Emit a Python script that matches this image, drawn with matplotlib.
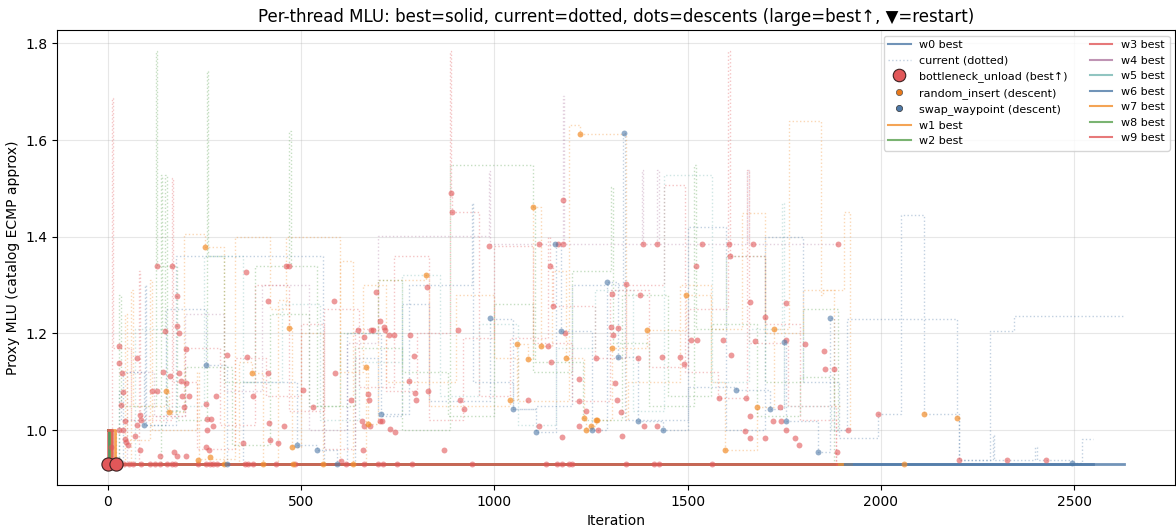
#!/usr/bin/env python3
"""Per-thread MLU traces: best (solid), current (dotted), descent dots."""

import matplotlib
matplotlib.use('Agg')
import matplotlib.pyplot as plt
from matplotlib.lines import Line2D

# Worker colours (w0..w9)
WORKER_COLORS = ['#4e79a7', '#f28e2b', '#59a14f', '#e15759', '#b07aa1',
                 '#76b7b2', '#4e79a7', '#f28e2b', '#59a14f', '#e15759']

# Best MLU per worker: starts at 1.0, drops to the best value, held till the end
BEST_START = 1.0
BEST_VALUE = 0.929
BEST_DROP_ITER = [3, 19, 5, 1, 6, 7, 2, 8, 4, 10]
BEST_END_ITER = [2630, 1924, 1890, 1885, 1890, 1870, 2549, 1900, 1880, 1885]

# Current MLU traces (step changes), one pair of lists per worker
W0_IT = [0, 4, 30, 34, 95, 99, 176, 556, 560, 640, 700, 760, 830, 990, 1048, 1109, 1160, 1173,
         1252, 1292, 1320, 1372, 1436, 1500, 1626, 1714, 1750, 1755, 1838, 1868, 1880, 1913,
         2196, 2202, 2282, 2344, 2630]
W0_CUR = [1.0, 0.93, 1.08, 1.02, 1.30, 1.01, 1.36, 1.02, 0.93, 1.15, 1.03, 1.26, 1.06, 1.23, 1.043,
          0.996, 1.385, 1.205, 1.0, 1.306, 1.152, 1.019, 1.0, 1.09, 1.082, 1.044, 1.183, 1.019,
          0.955, 1.231, 1.0, 1.229, 1.025, 0.937, 1.205, 1.236, 1.236]
W1_IT = [0, 20, 60, 64, 151, 157, 196, 252, 300, 340, 374, 401, 440, 470, 477, 500, 557, 600, 635,
         668, 673, 700, 823, 830, 1041, 1058, 1088, 1100, 1121, 1150, 1186, 1231, 1238, 1251, 1264,
         1304, 1394, 1495, 1560, 1596, 1680, 1723, 1762, 1845, 1850, 1904, 1920, 1924]
W1_CUR = [1.0, 0.93, 1.29, 1.05, 1.081, 1.037, 1.405, 1.379, 0.93, 1.14, 1.117, 0.93, 1.27, 1.211,
          0.964, 1.2, 0.93, 1.35, 0.93, 1.13, 1.012, 1.31, 1.321, 1.05, 1.062, 1.177, 1.147, 1.461,
          1.173, 1.33, 1.149, 1.025, 1.0, 1.008, 1.021, 1.169, 1.207, 1.279, 1.1, 0.959, 1.047, 1.21,
          1.639, 1.28, 1.29, 1.451, 1.0, 1.0]
W2_IT = [0, 6, 30, 34, 124, 128, 180, 256, 260, 300, 380, 469, 473, 540, 600, 700, 760, 880, 1000,
         1100, 1200, 1302, 1306, 1400, 1518, 1522, 1600, 1700, 1800, 1890]
W2_CUR = [1.0, 0.93, 1.28, 1.05, 1.785, 1.34, 1.02, 1.744, 1.36, 1.10, 1.34, 1.618, 1.34, 1.05, 1.20,
          1.31, 1.12, 1.03, 1.26, 1.12, 1.33, 1.503, 1.18, 1.05, 1.548, 1.21, 1.36, 1.10, 1.25, 1.0]
W3_IT = [0, 2, 10, 14, 60, 165, 169, 230, 330, 410, 500, 560, 640, 720, 800, 885, 887, 891, 960,
         1040, 1140, 1143, 1151, 1260, 1340, 1440, 1494, 1580, 1655, 1659, 1760, 1885]
W3_CUR = [1.0, 0.93, 1.687, 1.17, 1.02, 1.521, 1.10, 0.96, 1.15, 1.07, 1.22, 0.96, 1.21, 1.08, 1.20,
          1.784, 1.491, 1.451, 1.07, 1.19, 1.40, 1.340, 1.257, 1.15, 1.30, 1.508, 1.12, 1.066, 1.539,
          1.18, 1.05, 0.93]
W4_IT = [0, 6, 50, 120, 200, 300, 400, 520, 620, 698, 985, 989, 1178, 1181, 1381, 1385, 1421, 1425,
         1655, 1659, 1890]
W4_CUR = [1.0, 0.93, 1.12, 1.03, 1.24, 1.08, 1.30, 1.00, 1.18, 1.402, 1.535, 1.384, 1.692, 1.384,
          1.539, 1.384, 1.539, 1.384, 1.539, 1.384, 1.384]
W5_IT = [0, 7, 70, 150, 250, 350, 450, 550, 650, 760, 860, 960, 1060, 1160, 1260, 1360, 1440, 1563,
         1660, 1745, 1749, 1870]
W5_CUR = [1.0, 0.93, 1.21, 1.05, 1.36, 1.10, 1.26, 1.02, 1.14, 1.32, 1.07, 1.22, 1.01, 1.17, 1.29,
          1.04, 1.527, 1.10, 1.21, 1.469, 1.05, 1.0]
W6_IT = [0, 3, 40, 93, 150, 254, 309, 350, 490, 541, 594, 620, 708, 780, 941, 945, 1048, 1109, 1200,
         1334, 1338, 1500, 1600, 1700, 1800, 1892, 1993, 2052, 2111, 2202, 2290, 2294, 2326, 2400,
         2404, 2427, 2494, 2520, 2549]
W6_CUR = [1.0, 0.93, 1.12, 1.01, 1.25, 1.134, 0.93, 1.10, 0.968, 0.958, 0.93, 1.20, 1.034, 1.30,
          1.47, 1.10, 1.043, 1.05, 1.30, 1.614, 1.02, 1.42, 1.00, 1.40, 1.10, 0.983, 1.034, 1.446,
          1.034, 0.937, 0.989, 0.937, 0.937, 0.965, 0.937, 0.937, 0.932, 0.982, 0.982]
W7_IT = [0, 8, 45, 49, 110, 114, 230, 236, 330, 420, 460, 600, 660, 720, 900, 1000, 1060, 1193, 1222,
         1340, 1345, 1480, 1560, 1640, 1700, 1800, 1880, 1900]
W7_CUR = [1.0, 0.93, 1.24, 0.98, 1.31, 1.0, 1.12, 0.94, 1.40, 1.25, 1.40, 1.12, 1.30, 1.10, 1.28,
          1.15, 1.06, 1.632, 1.613, 1.02, 1.10, 1.30, 1.21, 1.45, 1.20, 1.29, 1.05, 1.05]
W8_IT = [0, 10, 137, 141, 148, 152, 200, 320, 420, 520, 640, 760, 886, 1100, 1104, 1230, 1330, 1450,
         1560, 1680, 1790, 1880]
W8_CUR = [1.0, 0.93, 1.527, 1.20, 1.527, 1.04, 1.13, 0.97, 1.24, 1.05, 1.17, 1.00, 1.548, 1.461,
          1.14, 1.02, 1.28, 1.07, 1.22, 1.03, 1.11, 0.93]
W9_IT = [0, 3, 80, 84, 200, 290, 380, 470, 560, 650, 740, 830, 920, 1000, 1100, 1200, 1300, 1400,
         1500, 1605, 1609, 1700, 1790, 1885]
W9_CUR = [1.0, 0.93, 1.33, 1.03, 1.17, 1.01, 1.30, 1.04, 1.25, 1.09, 1.36, 1.02, 1.19, 1.381, 1.18,
          1.06, 1.29, 1.13, 1.25, 1.785, 1.360, 1.22, 1.02, 0.93]

# Descent dots, coloured by operator
BU_IT = [128, 166, 357, 462, 470, 414, 584, 180, 179, 149, 184, 29, 202, 308, 360, 75, 28, 36, 142,
         160, 183, 415, 587, 188, 203, 113, 127, 40, 193, 210, 280, 375, 505, 34, 197, 255, 530, 83,
         86, 45, 76, 257, 268, 271, 416, 457, 29, 38, 257, 70, 45, 47, 52, 9, 82, 350, 419, 439, 253,
         262, 172, 178, 134, 201, 604,
         42, 55, 64, 85, 109, 122, 134, 152, 165, 173, 234, 255, 264, 272, 283, 354, 363, 375, 435,
         484, 615,
         826, 1143, 1151, 693, 705, 714, 717, 647, 680, 685, 664, 728, 740, 782, 907, 1184, 1140,
         1147, 1264, 792, 779, 829, 794, 798, 674, 676, 630, 910, 921, 1087, 1219, 1219, 1238, 658,
         662, 678, 703, 709, 731, 742, 1115, 1219, 1268, 1174, 661, 870,
         663, 698, 711, 747, 786, 943, 1134, 1162, 1175, 1193, 1202,
         1609, 1523, 1340, 1376, 1304, 1662, 1754, 1700, 1303, 1320, 1307, 1509, 1525, 1591, 1674,
         1754, 1805, 1372, 1434, 1481, 1492, 1612, 1853, 1855, 1878, 1311, 1318, 1329, 1581, 1650,
         1738, 1661, 1720, 1742, 1388, 1422, 1649, 1755, 1916, 1331, 1661, 1700, 1779, 1788, 1887,
         1340, 1412, 1426, 1564,
         1993, 2202, 2326, 2427,
         887, 891, 985, 1116, 1165, 1179, 1178, 1385, 1422, 1537, 1608, 1669, 1889]
BU_MLU = [1.340, 1.340, 1.328, 1.340, 1.340, 1.267, 1.267, 1.277, 1.216, 1.205, 1.200, 1.174, 1.167,
          1.156, 1.151, 1.149, 1.138, 1.117, 1.120, 1.112, 1.119, 1.119, 1.119, 1.102, 1.097, 1.081,
          1.081, 1.078, 1.071, 1.071, 1.071, 1.071, 1.083, 1.052, 1.048, 1.054, 1.047, 1.031, 1.021,
          1.019, 1.010, 1.022, 1.022, 1.008, 1.014, 1.008, 1.001, 1.001, 1.001, 0.988, 0.982, 0.975,
          0.968, 0.964, 0.958, 0.973, 0.980, 0.974, 0.965, 0.958, 0.955, 0.946, 0.947, 0.947, 0.936,
          0.930, 0.930, 0.930, 0.930, 0.930, 0.930, 0.930, 0.930, 0.930, 0.930, 0.930, 0.930, 0.930,
          0.930, 0.930, 0.930, 0.930, 0.930, 0.930, 0.930, 0.930,
          1.296, 1.340, 1.257, 1.285, 1.225, 1.214, 1.207, 1.207, 1.207, 1.207, 1.192, 1.196, 1.196,
          1.196, 1.207, 1.200, 1.173, 1.141, 1.149, 1.154, 1.102, 1.081, 1.076, 1.062, 1.074, 1.063,
          1.062, 1.062, 1.043, 1.062, 1.105, 1.061, 1.039, 1.019, 1.008, 1.008, 1.019, 1.019, 1.003,
          0.995, 1.008, 1.008, 1.000, 0.986, 0.959, 0.958,
          0.930, 0.930, 0.930, 0.930, 0.930, 0.930, 0.930, 0.930, 0.930, 0.930, 0.930,
          1.360, 1.340, 1.302, 1.280, 1.282, 1.265, 1.263, 1.234, 1.213, 1.211, 1.196, 1.187, 1.187,
          1.187, 1.185, 1.187, 1.179, 1.149, 1.152, 1.152, 1.136, 1.156, 1.164, 1.127, 1.127, 1.097,
          1.062, 1.038, 1.066, 1.066, 1.047, 1.030, 1.019, 1.019, 1.009, 1.009, 0.997, 1.000, 1.000,
          0.988, 0.983, 0.983, 0.983, 0.968, 0.955,
          0.930, 0.930, 0.930, 0.930,
          1.034, 0.937, 0.937, 0.937,
          1.491, 1.451, 1.381, 1.384, 1.384, 1.384, 1.475, 1.384, 1.384, 1.384, 1.384, 1.384, 1.384]
RI_IT = [470, 374, 151, 157, 477, 264, 232, 300, 401, 479, 557,
         823, 1058, 1121, 1088, 1186, 668, 1041, 1231, 673, 1251, 1238, 1264, 635,
         1495, 1394, 1723, 1304, 1680, 1265, 1596,
         2112, 2196, 2061, 252, 1100, 1223]
RI_MLU = [1.211, 1.117, 1.081, 1.037, 0.964, 0.944, 0.937, 0.930, 0.930, 0.930, 0.930,
          1.321, 1.177, 1.173, 1.147, 1.149, 1.130, 1.062, 1.025, 1.012, 1.008, 1.000, 1.021, 0.930,
          1.279, 1.207, 1.210, 1.169, 1.047, 1.021, 0.959,
          1.034, 1.025, 0.930, 1.379, 1.461, 1.613]
SW_IT = [254, 93, 490, 541, 309, 594,
         990, 1173, 708, 1048, 1109, 1252,
         1292, 1868, 1750, 1320, 1626, 1714, 1755, 1372, 1436, 1838,
         2494, 1158, 1335]
SW_MLU = [1.134, 1.010, 0.968, 0.958, 0.930, 0.930,
          1.231, 1.205, 1.034, 1.043, 0.996, 1.000,
          1.306, 1.231, 1.183, 1.152, 1.082, 1.044, 1.019, 1.019, 1.000, 0.955,
          0.932, 1.384, 1.614]
# Best-improvement events (large markers)
BEST_UP_IT = [1, 22]
BEST_UP_MLU = [0.929, 0.929]

CURRENT_TRACES = [(W0_IT, W0_CUR), (W1_IT, W1_CUR), (W2_IT, W2_CUR), (W3_IT, W3_CUR),
                  (W4_IT, W4_CUR), (W5_IT, W5_CUR), (W6_IT, W6_CUR), (W7_IT, W7_CUR),
                  (W8_IT, W8_CUR), (W9_IT, W9_CUR)]

RED = '#e15759'
ORANGE = '#f28e2b'
BLUE = '#4e79a7'


def main() -> None:
    fig = plt.figure(figsize=(11.76, 5.32), dpi=100)
    ax = fig.add_axes([0.0485, 0.0883, 0.9507, 0.8553])

    # current traces (dotted)
    for w, (its, cur) in enumerate(CURRENT_TRACES):
        ax.plot(its, cur, drawstyle='steps-post', linestyle=':', linewidth=1.0,
                color=WORKER_COLORS[w], alpha=0.35, zorder=2)

    # best traces (solid)
    for w in range(10):
        ax.plot([0, BEST_DROP_ITER[w], BEST_END_ITER[w]],
                [BEST_START, BEST_VALUE, BEST_VALUE],
                drawstyle='steps-post', linewidth=2.0, color=WORKER_COLORS[w],
                alpha=0.8, zorder=3)

    # descent dots
    ax.scatter(BU_IT, BU_MLU, s=18, color=RED, alpha=0.6, linewidths=0, zorder=4)
    ax.scatter(RI_IT, RI_MLU, s=18, color=ORANGE, alpha=0.7, linewidths=0, zorder=4)
    ax.scatter(SW_IT, SW_MLU, s=18, color=BLUE, alpha=0.6, linewidths=0, zorder=4)
    ax.scatter(BEST_UP_IT, BEST_UP_MLU, s=90, color=RED, edgecolors='#3a2020',
               linewidths=0.8, zorder=5)

    ax.set_title('Per-thread MLU: best=solid, current=dotted, dots=descents '
                 '(large=best\u2191, \u25bc=restart)', fontsize=12)
    ax.set_xlabel('Iteration')
    ax.set_ylabel('Proxy MLU (catalog ECMP approx)')
    ax.grid(True, alpha=0.3)

    handles = [
        Line2D([], [], color=WORKER_COLORS[0], lw=1.5, alpha=0.8, label='w0 best'),
        Line2D([], [], color=WORKER_COLORS[0], lw=1.0, ls=':', alpha=0.35,
               label='current (dotted)'),
        Line2D([], [], ls='', marker='o', ms=9, color=RED, mec='#3a2020', mew=0.8,
               label='bottleneck_unload (best\u2191)'),
        Line2D([], [], ls='', marker='o', ms=4.5, color='#e8781a', mec='#555555', mew=0.5,
               label='random_insert (descent)'),
        Line2D([], [], ls='', marker='o', ms=4.5, color=BLUE, mec='#333333', mew=0.5,
               label='swap_waypoint (descent)'),
    ]
    for w in range(1, 10):
        handles.append(Line2D([], [], color=WORKER_COLORS[w], lw=1.5, alpha=0.8,
                              label=f'w{w} best'))
    ax.legend(handles=handles, loc='upper right', ncol=2, fontsize=8)

    fig.savefig('out.png', dpi=100)


if __name__ == '__main__':
    main()
